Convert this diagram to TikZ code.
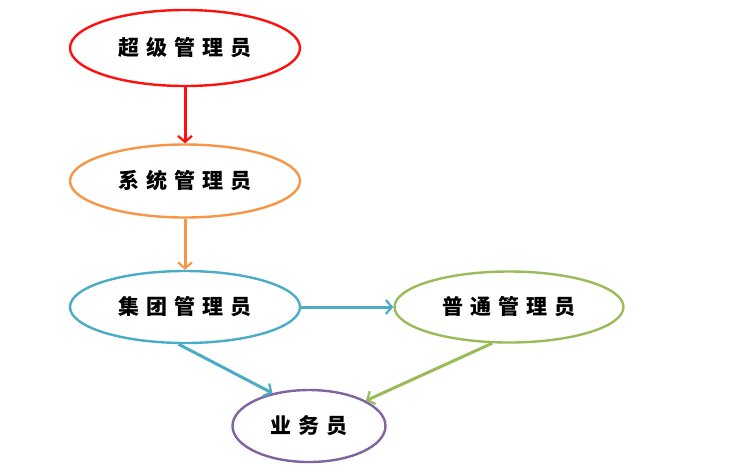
\documentclass[tikz,border=0pt]{standalone}
\usepackage{fontspec}
\newfontfamily\cjk{Noto Sans CJK SC}
\usetikzlibrary{shapes.geometric,arrows.meta}
\definecolor{cred}{HTML}{FF1010}
\definecolor{corange}{HTML}{F79646}
\definecolor{cblue}{HTML}{4BACC6}
\definecolor{cgreen}{HTML}{9BBB59}
\definecolor{cpurple}{HTML}{8064A2}
\newcommand{\chgap}{\hspace{0.33em}}
\begin{document}
\begin{tikzpicture}[x=1pt,y=-1pt,
  role/.style={ellipse,draw,line width=2.4pt,fill=white,inner sep=0pt,
    font=\cjk\bfseries\fontsize{21}{21}\selectfont},
  conn/.style={line width=3pt,-{Straight Barb[length=6pt,width=14pt,line width=2.2pt]}},
]
\useasboundingbox (0,0) rectangle (751,475);
\node[role,draw=cred,minimum width=230,minimum height=76] (super) at (185,48) {超\chgap 级\chgap 管\chgap 理\chgap 员};
\node[role,draw=corange,minimum width=230,minimum height=73] (sys) at (185,181) {系\chgap 统\chgap 管\chgap 理\chgap 员};
\node[role,draw=cblue,minimum width=230,minimum height=72] (group) at (185,307) {集\chgap 团\chgap 管\chgap 理\chgap 员};
\node[role,draw=cgreen,minimum width=229,minimum height=71] (normal) at (509,307) {普\chgap 通\chgap 管\chgap 理\chgap 员};
\node[role,draw=cpurple,minimum width=153,minimum height=72] (staff) at (309,426) {业\chgap 务\chgap 员};
\draw[conn,draw=cred] (super) -- (sys);
\draw[conn,draw=corange] (sys) -- (group);
\draw[conn,draw=cblue] (group) -- (normal);
\draw[conn,draw=cblue] (group.-100) -- (staff.138);
\draw[conn,draw=cgreen] (normal.-115) -- (staff.24);
\end{tikzpicture}
\end{document}
